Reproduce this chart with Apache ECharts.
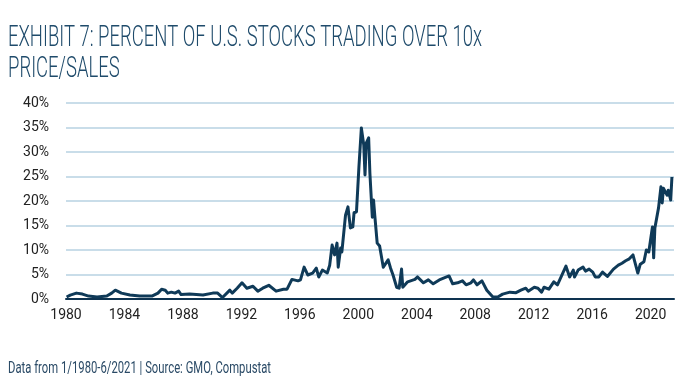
<!DOCTYPE html>
<html>
<head>
<meta charset="utf-8">
<script src="https://cdn.jsdelivr.net/npm/echarts@6/dist/echarts.min.js"></script>
<style>html,body{margin:0;padding:0;background:#fff;}#chart{width:700px;height:390px;}</style>
</head>
<body>
<div id="chart"></div>
<script>
const titleLines = ['EXHIBIT 7: PERCENT OF U.S. STOCKS TRADING OVER 10x', 'PRICE/SALES'];
const footnote = 'Data from 1/1980-6/2021 | Source: GMO, Compustat';
const yTicks = [0, 5, 10, 15, 20, 25, 30, 35, 40];
const xLabelYears = [1980, 1984, 1988, 1992, 1996, 2000, 2004, 2008, 2012, 2016, 2020];
const dates = [
'1980-01','1980-04','1980-09','1981-02','1981-07','1982-02','1982-10','1983-02','1983-05','1983-10',
'1984-05','1985-01','1985-11','1986-04','1986-07','1986-10','1986-12','1987-03','1987-06','1987-09',
'1987-11','1988-06','1989-05','1990-01','1990-05','1990-09','1991-03','1991-05','1991-09','1992-01',
'1992-05','1992-10','1993-02','1993-06','1993-11','1994-05','1994-11','1995-02','1995-06','1995-11',
'1996-01','1996-04','1996-07','1996-11','1997-02','1997-04','1997-07','1997-11','1998-01','1998-03',
'1998-05','1998-07','1998-08','1998-10','1998-11','1999-02','1999-04','1999-06','1999-08','1999-09',
'1999-11','2000-01','2000-03','2000-05','2000-06','2000-07','2000-09','2000-10','2000-12','2001-01',
'2001-02','2001-04','2001-06','2001-09','2002-01','2002-03','2002-05','2002-08','2002-10','2002-12',
'2003-01','2003-05','2003-11','2004-01','2004-06','2004-10','2005-02','2005-07','2006-03','2006-06',
'2006-10','2007-02','2007-05','2007-09','2007-11','2008-02','2008-06','2008-10','2009-03','2009-07',
'2009-11','2010-05','2010-10','2011-02','2011-06','2011-08','2012-01','2012-04','2012-07','2012-09',
'2013-01','2013-05','2013-08','2013-11','2014-03','2014-06','2014-09','2014-10','2015-01','2015-05',
'2015-07','2015-10','2016-01','2016-03','2016-06','2016-09','2017-01','2017-06','2017-10','2018-01',
'2018-04','2018-07','2018-10','2019-02','2019-04','2019-07','2019-09','2019-11','2020-02','2020-03',
'2020-04','2020-07','2020-09','2020-10','2020-11','2021-02','2021-03','2021-05','2021-06'
];
const values = [
0.4,0.8,1.2,1.0,0.6,0.4,0.6,1.2,1.8,1.2,
0.8,0.6,0.6,1.2,2.0,1.8,1.2,1.4,1.2,1.6,
0.9,1.0,0.8,1.2,1.2,0.3,1.8,1.2,2.2,3.3,
2.2,2.6,1.6,2.2,2.8,1.6,2.0,2.0,4.0,3.7,
3.9,6.5,4.9,5.3,6.3,4.5,5.9,5.3,6.9,11.0,
9.0,11.4,6.5,10.4,9.6,17.1,18.8,14.5,14.7,17.6,
17.8,26.9,34.9,31.4,25.3,31.8,32.9,25.7,16.7,20.2,
17.1,11.4,10.8,6.5,8.0,6.3,4.9,2.4,2.2,6.1,
2.4,3.5,4.0,4.5,3.3,3.9,3.1,3.9,4.7,3.1,
3.3,3.7,2.9,3.3,3.9,2.9,3.7,1.8,0.4,0.4,
1.0,1.4,1.3,1.8,2.2,1.6,2.4,2.2,1.4,2.4,
2.0,3.5,2.9,4.5,6.7,4.5,5.9,4.5,5.9,6.5,
5.7,6.1,5.5,4.5,4.5,5.5,4.6,6.1,6.9,7.3,
7.8,8.2,9.0,5.3,7.1,7.6,10.0,9.6,14.7,8.4,
14.5,18.6,22.9,19.6,22.6,21.2,22.2,20.2,24.9
];

function toYear(s) { const p = s.split('-').map(Number); return p[0] + (p[1] - 0.5) / 12; }
const seriesData = dates.map((d, i) => [toYear(d), values[i]]);

function fitScale(text, font, target) {
  const ctx = document.createElement('canvas').getContext('2d');
  ctx.font = font;
  return target / ctx.measureText(text).width;
}
const titleFont = '300 29px Roboto';
const titleScale = fitScale(titleLines[0], titleFont, 474);
const footFont = '400 16.5px Roboto';
const footScale = fitScale(footnote, footFont, 263);

const chart = echarts.init(document.getElementById('chart'), null, {renderer: 'canvas'});
chart.setOption({
  animation: false,
  backgroundColor: '#ffffff',
  grid: {left: 66, right: 26, top: 103, bottom: 91, containLabel: false},
  xAxis: {
    type: 'value', min: 1980, max: 2021.6, interval: 4,
    axisLine: {show: true, onZero: false, lineStyle: {color: '#0e3350', width: 2}},
    axisTick: {show: false},
    splitLine: {show: false},
    axisLabel: {
      margin: 9, color: '#222', fontFamily: 'Roboto', fontSize: 14,
      showMaxLabel: false,
      formatter: v => xLabelYears.indexOf(Math.round(v)) >= 0 && Math.abs(v - Math.round(v)) < 1e-6 ? String(Math.round(v)) : ''
    }
  },
  yAxis: {
    type: 'value', min: yTicks[0], max: yTicks[yTicks.length - 1], interval: 5,
    axisLine: {show: false}, axisTick: {show: false},
    splitLine: {show: true, lineStyle: {color: '#c9dde9', width: 2}},
    axisLabel: {margin: 17, color: '#222', fontFamily: 'Roboto', fontSize: 14, formatter: '{value}%'}
  },
  series: [{
    type: 'line', data: seriesData, showSymbol: false, smooth: false,
    lineStyle: {color: '#0f3a58', width: 3, join: 'round'}, z: 3
  }],
  graphic: [
    {type: 'text', x: 8, y: 24, scaleX: titleScale, style: {text: titleLines[0], font: titleFont, fill: '#1f4b6b', verticalAlign: 'top'}},
    {type: 'text', x: 8, y: 55, scaleX: titleScale, style: {text: titleLines[1], font: titleFont, fill: '#1f4b6b', verticalAlign: 'top'}},
    {type: 'text', x: 8, y: 360, scaleX: footScale, style: {text: footnote, font: footFont, fill: '#2a4a66', verticalAlign: 'top'}}
  ]
});
</script>
</body>
</html>
